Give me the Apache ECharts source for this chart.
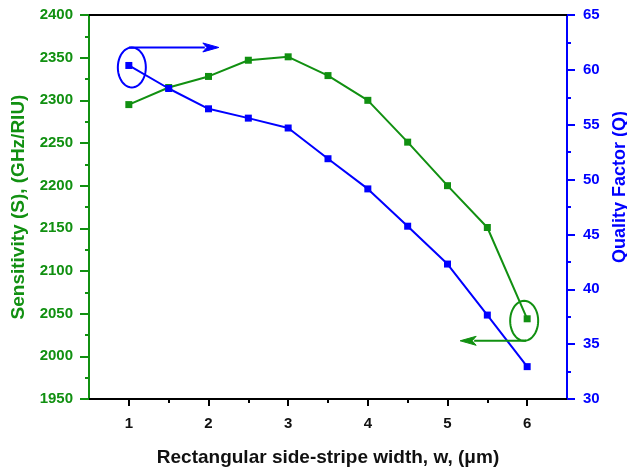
<!DOCTYPE html>
<html>
<head>
<meta charset="utf-8">
<script src="https://cdn.jsdelivr.net/npm/echarts@6/dist/echarts.min.js"></script>
<style>
  html, body { margin: 0; padding: 0; background: #ffffff; }
  #chart { width: 627px; height: 472px; }
</style>
</head>
<body>
<div id="chart"></div>
<script>
// Side-stripe width sweep (µm)
const widths = [1, 1.5, 2, 2.5, 3, 3.5, 4, 4.5, 5, 5.5, 6];
// Sensitivity S (GHz/RIU)
const sensitivity = [2295, 2315, 2328, 2347, 2351, 2329, 2300, 2251, 2200, 2151, 2044];
// Quality factor Q
const qualityFactor = [60.4, 58.3, 56.45, 55.6, 54.7, 51.9, 49.15, 45.75, 42.3, 37.65, 32.95];
// Axis tick positions
const xMajorTicks = [1, 2, 3, 4, 5, 6];
const xMinorTicks = [1.5, 2.5, 3.5, 4.5, 5.5];

const GREEN = '#119011';
const BLUE = '#0000ff';
const FONT = 'Liberation Sans, Arial, sans-serif';

const chart = echarts.init(document.getElementById('chart'), null, { renderer: 'canvas' });

const pairs = (ys) => widths.map((x, i) => [x, ys[i]]);
const plain = (v) => String(v);

chart.setOption({
  backgroundColor: '#ffffff',
  animation: false,
  grid: { left: 89, right: 60, top: 15, bottom: 73, containLabel: false, outerBoundsMode: 'none' },
  xAxis: [
    {
      type: 'value', position: 'bottom', min: 0.5, max: 6.5,
      name: 'Rectangular side-stripe width, w, (\u03bcm)',
      nameLocation: 'middle', nameGap: 49,
      nameTextStyle: { color: '#111', fontFamily: FONT, fontWeight: 'bold', fontSize: 19 },
      axisLine: { show: true, onZero: false, lineStyle: { color: '#000', width: 2 } },
      axisTick: { show: true, inside: false, length: 7, customValues: xMajorTicks, lineStyle: { color: '#000', width: 2 } },
      axisLabel: { show: true, margin: 17, customValues: xMajorTicks, formatter: plain, color: '#111', fontFamily: FONT, fontWeight: 'bold', fontSize: 15 },
      splitLine: { show: false }
    },
    {
      type: 'value', position: 'bottom', min: 0.5, max: 6.5,
      axisLine: { show: false, onZero: false },
      axisTick: { show: true, inside: false, length: 4, customValues: xMinorTicks, lineStyle: { color: '#000', width: 2 } },
      axisLabel: { show: false },
      splitLine: { show: false }
    },
    {
      type: 'value', position: 'top', min: 0.5, max: 6.5,
      axisLine: { show: true, onZero: false, lineStyle: { color: '#000', width: 2 } },
      axisTick: { show: false }, axisLabel: { show: false }, splitLine: { show: false }
    }
  ],
  yAxis: [
    {
      type: 'value', position: 'left', min: 1950, max: 2400, interval: 50,
      name: 'Sensitivity (S), (GHz/RIU)',
      nameLocation: 'middle', nameRotate: 90, nameGap: 61,
      nameTextStyle: { color: GREEN, fontFamily: FONT, fontWeight: 'bold', fontSize: 19 },
      axisLine: { show: true, onZero: false, lineStyle: { color: GREEN, width: 2 } },
      axisTick: { show: true, inside: false, length: 9, lineStyle: { color: GREEN, width: 2 } },
      minorTick: { show: true, splitNumber: 2, length: 4, lineStyle: { color: GREEN, width: 2 } },
      axisLabel: { margin: 16, formatter: plain, color: GREEN, fontFamily: FONT, fontWeight: 'bold', fontSize: 15 },
      splitLine: { show: false }
    },
    {
      type: 'value', position: 'right', min: 30, max: 65, interval: 5,
      name: 'Quality Factor (Q)',
      nameLocation: 'middle', nameRotate: 90, nameGap: 38,
      nameTextStyle: { color: BLUE, fontFamily: FONT, fontWeight: 'bold', fontSize: 18, padding: [0, 0, 0, 40] },
      axisLine: { show: true, onZero: false, lineStyle: { color: BLUE, width: 2 } },
      axisTick: { show: true, inside: false, length: 8, lineStyle: { color: BLUE, width: 2 } },
      minorTick: { show: true, splitNumber: 2, length: 4, lineStyle: { color: BLUE, width: 2 } },
      axisLabel: { margin: 16, formatter: plain, color: BLUE, fontFamily: FONT, fontWeight: 'bold', fontSize: 15 },
      splitLine: { show: false }
    }
  ],
  series: [
    {
      name: 'Sensitivity', type: 'line', xAxisIndex: 0, yAxisIndex: 0,
      data: pairs(sensitivity),
      symbol: 'rect', symbolSize: 7,
      lineStyle: { color: GREEN, width: 2 },
      itemStyle: { color: GREEN }
    },
    {
      name: 'Quality Factor', type: 'line', xAxisIndex: 0, yAxisIndex: 1,
      data: pairs(qualityFactor),
      symbol: 'rect', symbolSize: 7,
      lineStyle: { color: BLUE, width: 2 },
      itemStyle: { color: BLUE }
    }
  ]
});

// Ellipse outline points around a centre
function ellipsePoints(cx, cy, rx, ry) {
  const pts = [];
  const n = 48;
  for (let k = 0; k < n; k++) {
    const a = (k / n) * Math.PI * 2;
    pts.push([cx + rx * Math.cos(a), cy + ry * Math.sin(a)]);
  }
  return pts;
}

// Circled point with an arrow pointing to the axis it belongs to
function callout(px, py, dx, color, dir, len) {
  const cx = px + dx, cy = py + 2, rx = 14, ry = 20;
  const ay = dir > 0 ? cy - ry : cy + ry;
  const x0 = dir > 0 ? cx - 3 : cx + 2;
  const tip = x0 + dir * len;
  const headLen = 16, headHalf = 4.5;
  return [
    { type: 'polygon', shape: { points: ellipsePoints(cx, cy, rx, ry) },
      style: { fill: 'none', stroke: color, lineWidth: 2 }, z: 100 },
    { type: 'line', shape: { x1: x0, y1: ay, x2: tip - dir * headLen + dir * 2, y2: ay },
      style: { stroke: color, lineWidth: 2 }, z: 100 },
    { type: 'polygon', shape: { points: [[tip, ay], [tip - dir * headLen, ay - headHalf], [tip - dir * (headLen - 4), ay], [tip - dir * headLen, ay + headHalf]] },
      style: { fill: color, stroke: color, lineWidth: 1 }, z: 100 }
  ];
}

const qFirst = chart.convertToPixel({ xAxisIndex: 0, yAxisIndex: 1 }, [widths[0], qualityFactor[0]]);
const sLast = chart.convertToPixel({ xAxisIndex: 0, yAxisIndex: 0 }, [widths[widths.length - 1], sensitivity[sensitivity.length - 1]]);

chart.setOption({
  graphic: [
    ...callout(qFirst[0], qFirst[1], 3, BLUE, 1, 90),
    ...callout(sLast[0], sLast[1], -3, GREEN, -1, 66)
  ]
});
</script>
</body>
</html>
